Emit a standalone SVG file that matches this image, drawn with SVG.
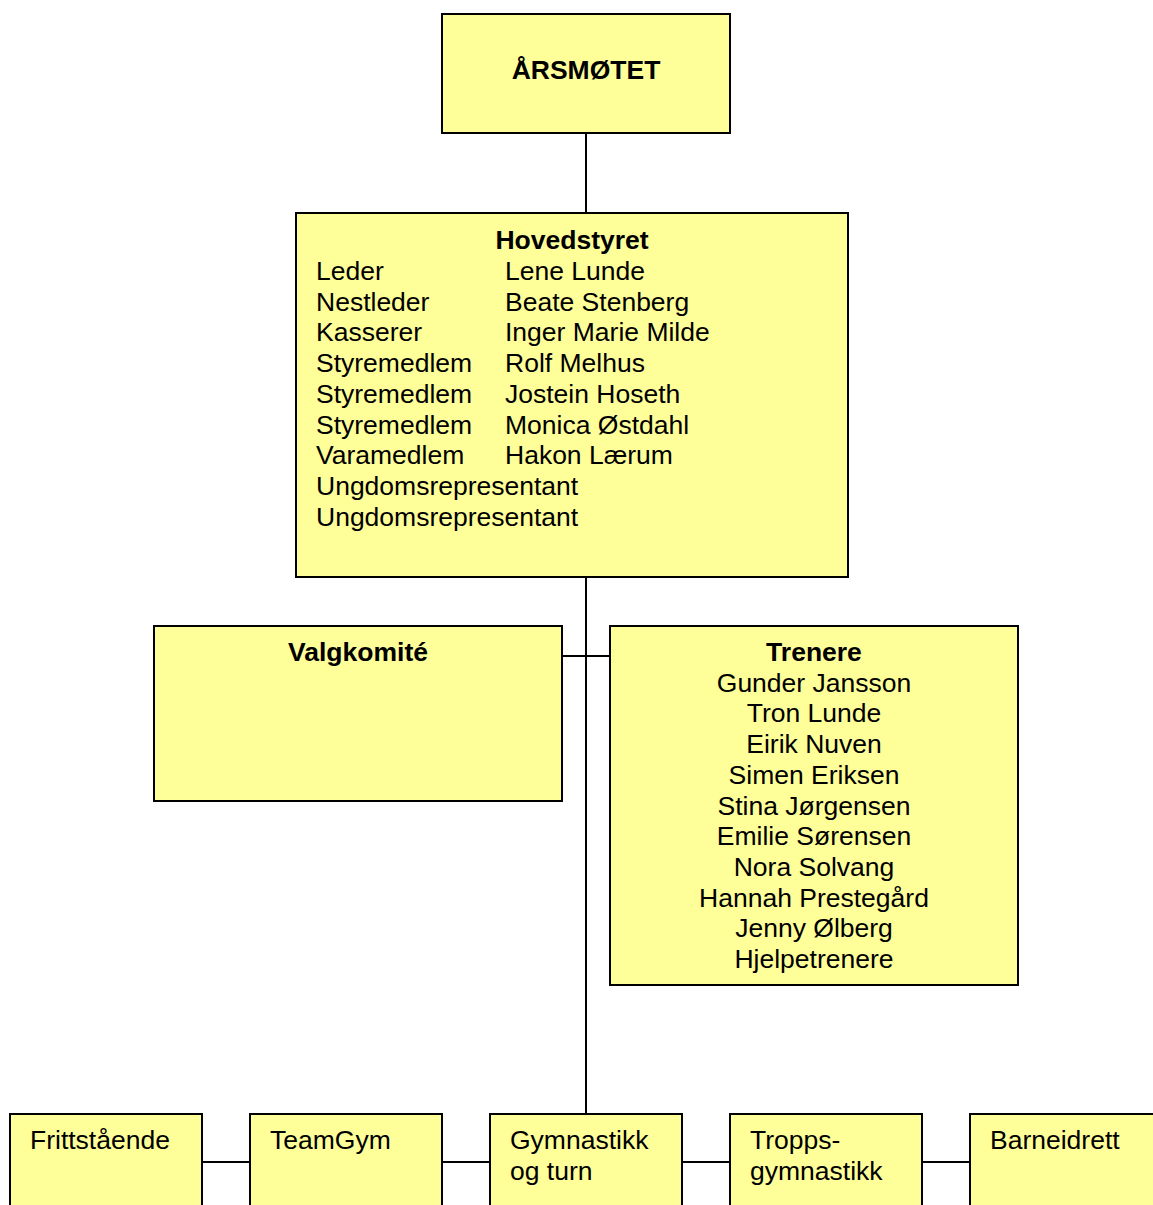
<svg xmlns="http://www.w3.org/2000/svg" width="1153" height="1205" viewBox="0 0 1153 1205">
<style>
.box{fill:#FFFF99;stroke:#000;stroke-width:2}
.ln{stroke:#000;stroke-width:2;fill:none}
text{font-family:"Liberation Sans",Arial,sans-serif;font-size:26.5px;fill:#000}
.b{font-weight:bold}
.c{text-anchor:middle}
</style>
<rect width="1153" height="1205" fill="#fff"/>
<g id="connectors">
<line class="ln" x1="586" y1="134" x2="586" y2="213"/>
<line class="ln" x1="586" y1="577" x2="586" y2="1114"/>
<line class="ln" x1="562" y1="656" x2="610" y2="656"/>
<line class="ln" x1="202" y1="1162" x2="250" y2="1162"/>
<line class="ln" x1="442" y1="1162" x2="490" y2="1162"/>
<line class="ln" x1="682" y1="1162" x2="730" y2="1162"/>
<line class="ln" x1="922" y1="1162" x2="970" y2="1162"/>
</g>
<g id="arsmotet">
<rect class="box" x="442" y="14" width="288" height="119"/>
<text class="b c" x="586" y="79">ÅRSMØTET</text>
</g>
<g id="hovedstyret">
<rect class="box" x="296" y="213" width="552" height="364"/>
<text class="b c" x="572" y="249">Hovedstyret</text>
<text x="316" y="280">Leder</text><text x="505" y="280">Lene Lunde</text>
<text x="316" y="310.7">Nestleder</text><text x="505" y="310.7">Beate Stenberg</text>
<text x="316" y="341.4">Kasserer</text><text x="505" y="341.4">Inger Marie Milde</text>
<text x="316" y="372.1">Styremedlem</text><text x="505" y="372.1">Rolf Melhus</text>
<text x="316" y="402.8">Styremedlem</text><text x="505" y="402.8">Jostein Hoseth</text>
<text x="316" y="433.5">Styremedlem</text><text x="505" y="433.5">Monica Østdahl</text>
<text x="316" y="464.2">Varamedlem</text><text x="505" y="464.2">Hakon Lærum</text>
<text x="316" y="494.9">Ungdomsrepresentant</text>
<text x="316" y="525.6">Ungdomsrepresentant</text>
</g>
<g id="valgkomite">
<rect class="box" x="154" y="626" width="408" height="175"/>
<text class="b c" x="358" y="661">Valgkomité</text>
</g>
<g id="trenere">
<rect class="box" x="610" y="626" width="408" height="359"/>
<text class="b c" x="814" y="661">Trenere</text>
<text class="c" x="814" y="691.7">Gunder Jansson</text>
<text class="c" x="814" y="722.4">Tron Lunde</text>
<text class="c" x="814" y="753.1">Eirik Nuven</text>
<text class="c" x="814" y="783.8">Simen Eriksen</text>
<text class="c" x="814" y="814.5">Stina Jørgensen</text>
<text class="c" x="814" y="845.2">Emilie Sørensen</text>
<text class="c" x="814" y="875.9">Nora Solvang</text>
<text class="c" x="814" y="906.6">Hannah Prestegård</text>
<text class="c" x="814" y="937.3">Jenny Ølberg</text>
<text class="c" x="814" y="968">Hjelpetrenere</text>
</g>
<g id="frittstaende">
<rect class="box" x="10" y="1114" width="192" height="110"/>
<text x="30" y="1149">Frittstående</text>
</g>
<g id="teamgym">
<rect class="box" x="250" y="1114" width="192" height="110"/>
<text x="270" y="1149">TeamGym</text>
</g>
<g id="gymnastikk">
<rect class="box" x="490" y="1114" width="192" height="110"/>
<text x="510" y="1149">Gymnastikk</text>
<text x="510" y="1180">og turn</text>
</g>
<g id="tropps">
<rect class="box" x="730" y="1114" width="192" height="110"/>
<text x="750" y="1149">Tropps-</text>
<text x="750" y="1180">gymnastikk</text>
</g>
<g id="barneidrett">
<rect class="box" x="970" y="1114" width="192" height="110"/>
<text x="990" y="1149">Barneidrett</text>
</g>
</svg>
